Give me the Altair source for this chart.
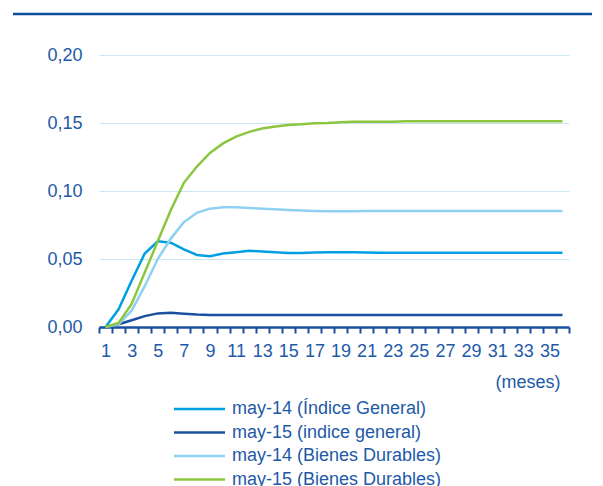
import altair as alt
import pandas as pd

months = list(range(1, 37))

series_names = [
    "may-14 (Índice General)",
    "may-15 (indice general)",
    "may-14 (Bienes Durables)",
    "may-15 (Bienes Durables)",
]
series_colors = ["#009FE3", "#1B4F9F", "#8FD1F2", "#8CC63F"]

s_gen14 = [0.000, 0.013, 0.034, 0.054, 0.063, 0.062, 0.057, 0.053, 0.052, 0.054,
           0.055, 0.056, 0.0555, 0.055, 0.0545, 0.0545, 0.0548, 0.055, 0.055, 0.055,
           0.0548, 0.0546, 0.0546, 0.0546, 0.0546, 0.0546, 0.0546, 0.0546, 0.0546, 0.0546,
           0.0546, 0.0546, 0.0546, 0.0546, 0.0546, 0.0546]
s_gen15 = [0.000, 0.002, 0.005, 0.008, 0.0100, 0.0105, 0.0098, 0.0092, 0.0089, 0.0088,
           0.0089, 0.0089, 0.0089, 0.0089, 0.0089, 0.0089, 0.0089, 0.0089, 0.0089, 0.0089,
           0.0089, 0.0089, 0.0089, 0.0089, 0.0089, 0.0089, 0.0089, 0.0089, 0.0089, 0.0089,
           0.0089, 0.0089, 0.0089, 0.0089, 0.0089, 0.0089]
s_dur14 = [0.000, 0.002, 0.012, 0.030, 0.050, 0.065, 0.077, 0.084, 0.087, 0.088,
           0.088, 0.0875, 0.087, 0.0865, 0.086, 0.0856, 0.0853, 0.0852, 0.0852, 0.0852,
           0.0853, 0.0853, 0.0853, 0.0853, 0.0853, 0.0853, 0.0853, 0.0853, 0.0853, 0.0853,
           0.0853, 0.0853, 0.0853, 0.0853, 0.0853, 0.0853]
s_dur15 = [0.000, 0.003, 0.017, 0.040, 0.063, 0.086, 0.106, 0.118, 0.128, 0.135,
           0.140, 0.1435, 0.146, 0.1475, 0.1485, 0.149, 0.1498, 0.150, 0.1505, 0.151,
           0.151, 0.151, 0.151, 0.1512, 0.1512, 0.1512, 0.1512, 0.1512, 0.1512, 0.1512,
           0.1512, 0.1512, 0.1512, 0.1512, 0.1512, 0.1512]

y_ticks = [0.0, 0.05, 0.10, 0.15, 0.20]

rows = []
for name, vals in zip(series_names, [s_gen14, s_gen15, s_dur14, s_dur15]):
    for m, v in zip(months, vals):
        rows.append({"mes": m, "valor": v, "serie": name})
df = pd.DataFrame(rows)

TEXT = "#1E59A8"
FONT = "Liberation Sans"

lines = alt.Chart(df).mark_line(strokeWidth=2.5).encode(
    x=alt.X(
        "mes:O",
        scale=alt.Scale(type="band", paddingInner=0, paddingOuter=0),
        sort=months,
        axis=alt.Axis(
            title="(meses)",
            titleFont=FONT, titleFontSize=18, titleFontWeight="normal", titleColor=TEXT,
            titleAlign="right", titleBaseline="middle", titleAnchor="end",
            titleX=461, titleY=55,
            labelExpr="datum.value % 2 == 1 ? datum.label : ''",
            labelAngle=0, labelFont=FONT, labelFontSize=18, labelColor=TEXT,
            labelBaseline="middle", labelPadding=18,
            tickBand="extent", tickSize=6, tickWidth=2, tickColor="#1B4F9F",
            domainColor="#1B4F9F", domainWidth=2.5, grid=False,
        ),
    ),
    y=alt.Y(
        "valor:Q",
        scale=alt.Scale(domain=[0, 0.2], nice=False, zero=True),
        axis=alt.Axis(
            title=None, values=y_ticks,
            labelExpr="replace(format(datum.value, '.2f'), '.', ',')",
            labelFont=FONT, labelFontSize=18, labelColor=TEXT, labelPadding=17,
            ticks=False, domain=False,
            grid=True, gridColor="#C8E6F4", gridWidth=1,
        ),
    ),
    color=alt.Color(
        "serie:N",
        scale=alt.Scale(domain=series_names, range=series_colors),
        sort=series_names,
        legend=alt.Legend(
            title=None, orient="none", legendX=91.5, legendY=345,
            symbolType="M-5.1,0H5.1", symbolSize=100, symbolStrokeWidth=2.5,
            labelFont=FONT, labelFontSize=18, labelColor=TEXT, labelOffset=23.5,
            labelLimit=0, rowPadding=5.5, padding=0, direction="vertical",
        ),
    ),
)

top_rule = alt.Chart(pd.DataFrame({"k": [0]})).mark_rule(
    color="#0D4EA0", strokeWidth=2.5
).encode(x=alt.value(-86), x2=alt.value(493), y=alt.value(-41))

chart = alt.layer(top_rule, lines).properties(
    width=470, height=272,
    autosize=alt.AutoSizeParams(type="none"),
    padding={"left": 91, "top": 47, "right": 26, "bottom": 159},
).configure_view(stroke=None)

chart.save("out.html", embed_options={"renderer": "svg", "actions": False})
